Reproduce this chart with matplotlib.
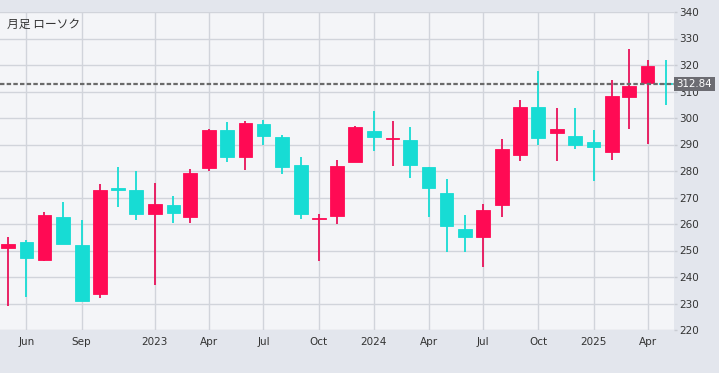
import matplotlib
matplotlib.use('Agg')
import matplotlib.pyplot as plt
import matplotlib.dates as mdates
import pandas as pd
import numpy as np

# monthly candles, May 2022 .. May 2025
months = pd.date_range('2022-05-01', periods=37, freq='MS')
opens = [251.0, 253.3, 246.4, 262.6, 252.0, 233.6, 273.7, 273.0, 263.7, 267.0, 262.5, 281.0,
         295.6, 285.2, 297.9, 293.0, 282.4, 262.0, 262.9, 283.5, 295.1, 292.2, 291.7, 281.5,
         271.7, 258.0, 255.0, 267.1, 286.2, 304.2, 294.5, 293.3, 290.9, 287.0, 308.1, 313.1,
         313.1]
highs = [255.0, 254.0, 264.6, 268.3, 261.6, 275.0, 281.6, 280.0, 275.5, 270.4, 280.6, 296.0,
         298.6, 299.0, 299.4, 293.7, 285.3, 263.6, 284.0, 297.0, 302.6, 298.8, 296.6, 281.5,
         277.0, 263.3, 267.7, 292.1, 306.8, 317.7, 303.8, 303.8, 295.6, 314.5, 326.2, 321.8,
         321.8]
lows = [229.0, 232.6, 246.0, 252.3, 230.8, 232.2, 266.4, 261.4, 237.0, 260.2, 260.2, 280.0,
        283.3, 280.3, 289.7, 278.8, 261.9, 246.0, 260.1, 283.3, 287.7, 282.0, 277.5, 262.8,
        249.6, 249.5, 243.7, 262.5, 283.6, 289.9, 283.6, 288.4, 276.3, 284.2, 295.7, 290.3,
        305.0]
closes = [252.5, 247.1, 263.3, 252.4, 230.9, 272.7, 272.7, 263.7, 267.4, 264.0, 279.4, 295.6,
          285.2, 298.2, 293.1, 281.4, 263.7, 262.2, 281.7, 296.6, 292.9, 292.4, 282.4, 273.4,
          259.4, 255.2, 265.4, 288.4, 304.2, 292.3, 295.9, 289.9, 288.9, 308.3, 312.2, 319.8,
          312.84]
last_price = 312.84

tick_dates = ['2022-06-01', '2022-09-01', '2023-01-01', '2023-04-01', '2023-07-01', '2023-10-01',
              '2024-01-01', '2024-04-01', '2024-07-01', '2024-10-01', '2025-01-01', '2025-04-01']
tick_labels = ['Jun', 'Sep', '2023', 'Apr', 'Jul', 'Oct', '2024', 'Apr', 'Jul', 'Oct', '2025', 'Apr']

up_col = '#ff0a54'
down_col = '#17dcd4'

plt.rcParams['font.family'] = ['DejaVu Sans']

fig = plt.figure(figsize=(7.19, 3.73), dpi=100, facecolor='#e3e6ed')
ax = fig.add_axes([0, 43 / 373, 674 / 719, 318 / 373])
ax.set_facecolor('#f4f5f8')

x = mdates.date2num(months)
o = np.array(opens)
c = np.array(closes)
cols = [up_col if cc >= oo else down_col for oo, cc in zip(o, c)]
wick_cols = ['#e8125a' if cc >= oo else down_col for oo, cc in zip(o, c)]

ax.vlines(x, lows, highs, colors=wick_cols, linewidth=1.3, zorder=2)
body = np.maximum(np.abs(c - o), 0.15)
ax.bar(x, body, bottom=np.minimum(o, c), width=23, color=cols, edgecolor=cols,
       linewidth=0.6, zorder=3)

ax.axhline(last_price, color='#6a6a6a', linestyle=(0, (2, 1)), linewidth=1.6, zorder=4)

ax.set_xlim(mdates.date2num(pd.Timestamp('2022-04-18')), mdates.date2num(pd.Timestamp('2025-05-15')))
ax.set_ylim(220, 340)
ax.set_xticks(mdates.date2num(pd.to_datetime(tick_dates)))
ax.set_xticklabels(tick_labels)
ax.set_yticks(np.arange(220, 341, 10))
ax.yaxis.tick_right()
ax.tick_params(axis='y', length=2.5, width=1, color='#c9ccd3', pad=1, labelsize=7.5, labelcolor='#333333')
ax.tick_params(axis='x', length=0, pad=5, labelsize=7.5, labelcolor='#333333')
ax.grid(True, color='#d1d4db', linewidth=1, zorder=0)
ax.set_axisbelow(True)
for s in ax.spines.values():
    s.set_visible(False)

ax.text(1.004, last_price, '312.84', transform=ax.get_yaxis_transform(), ha='left', va='center',
        fontsize=7.4, color='white', zorder=10, clip_on=False,
        bbox=dict(boxstyle='square,pad=0.22', fc='#6c6c72', ec='none'))

fig.text(7 / 719, 1 - 24 / 373, '月足 ローソク', family=['Noto Sans CJK JP', 'DejaVu Sans'],
         fontsize=8.5, color='#333333', ha='left', va='center')

fig.savefig('out.png', dpi=100, facecolor=fig.get_facecolor())
